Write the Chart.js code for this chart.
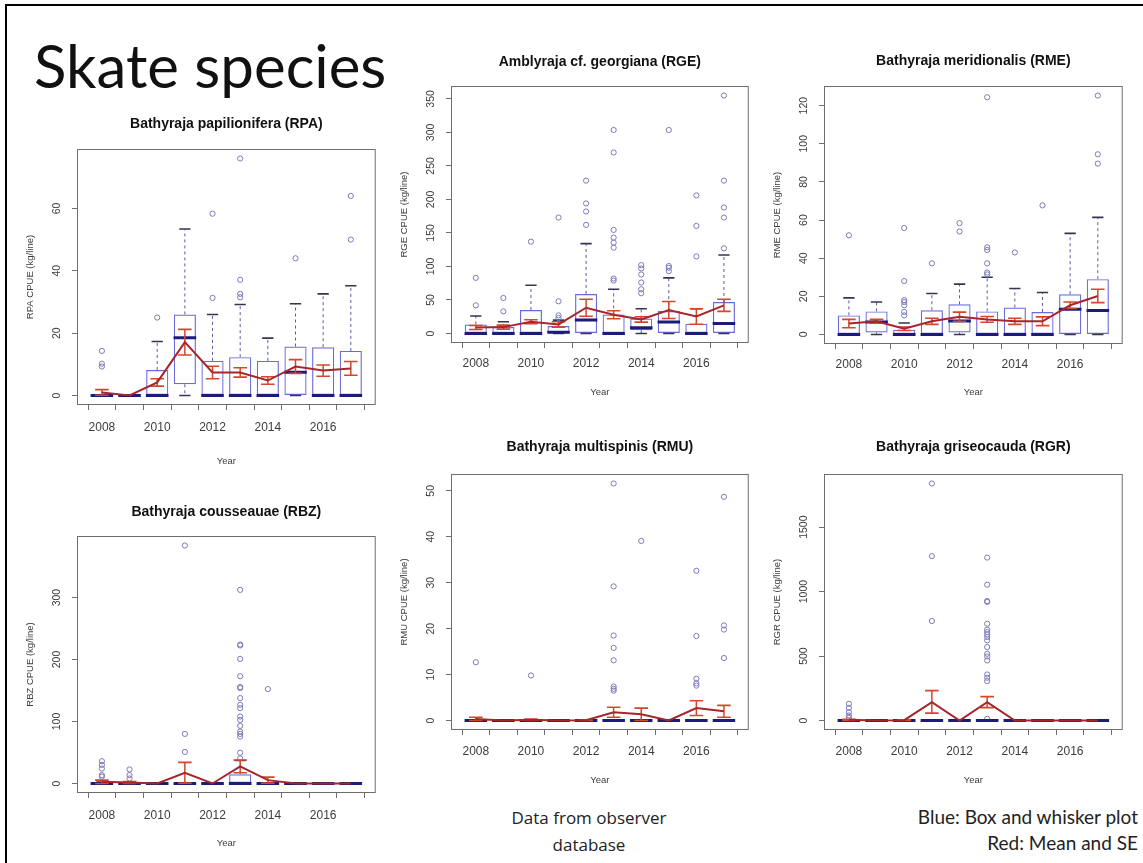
<!DOCTYPE html>
<html lang="en">
<head>
<meta charset="UTF-8">
<title>Skate species</title>
<script src="https://cdn.jsdelivr.net/npm/chart.js"></script>
<style>
  html, body { margin: 0; padding: 0; background: #fff; }
  #slide { position: relative; width: 1143px; height: 863px; overflow: hidden; background: #fff; }
  .rule { position: absolute; background: #000; }
  #heading { position: absolute; left: 34px; top: 35px; margin: 0; font: 400 60px/1 Lato, sans-serif; color: #111; white-space: nowrap; }
  .note { position: absolute; margin: 0; color: #222; white-space: nowrap; }
  #source { left: 489px; width: 200px; top: 804px; text-align: center; font: 400 17px/27px 'Open Sans', sans-serif; }
  #key { right: 5px; top: 804px; text-align: right; font: 400 19px/26px Lato, sans-serif; }
  canvas { position: absolute; }
</style>
</head>
<body>
<div id="slide">
  <div class="rule" style="left:5px;top:4px;width:1138px;height:1.5px"></div>
  <div class="rule" style="left:5px;top:4px;width:1.5px;height:859px"></div>
  <h1 id="heading">Skate species</h1>
  <p class="note" id="source">Data from observer<br>database</p>
  <p class="note" id="key">Blue: Box and whisker plot<br>Red: Mean and SE</p>
</div>

<script>
// survey years and the ones that get a label on the x axis
const years = [2008, 2009, 2010, 2011, 2012, 2013, 2014, 2015, 2016, 2017];
const labelledYears = [2008, 2010, 2012, 2014, 2016];

// box stats per year: [lower whisker, Q1, median, Q3, upper whisker]
const rpaStats = [
  [0, 0, 0, 0, 0], [0, 0, 0, 0, 0], [0, 0, 0, 8.2, 17.3], [0, 3.6, 18.5, 26, 53.4], [0, 0, 0, 11.1, 26],
  [0, 0, 0, 12.3, 29.2], [0, 0, 0, 11.1, 18.4], [0, 0, 7.5, 15.7, 29.4], [0, 0, 0, 15.5, 32.6], [0, 0, 0, 14.3, 35.2]
];
const rpaOutliers = [[9.3, 10.2, 14.3], [], [25], [], [31.3, 58.3], [31.5, 32.6, 37.1, 76], [], [44], [], [50, 64]];
const rpaMean = [1.0, 0, 4.2, 17.1, 7.4, 7.4, 4.8, 9.3, 8.0, 8.7];
const rpaSeLow = [0.1, 0, 3.0, 13.0, 5.4, 5.9, 3.6, 7.1, 6.2, 6.5];
const rpaSeHigh = [1.9, 0, 5.4, 21.2, 9.4, 8.9, 6.0, 11.5, 9.8, 10.9];

const rgeStats = [
  [0, 0, 0, 13.5, 26], [0, 0, 0, 9.5, 17.5], [0, 0, 0, 35, 72], [0, 0, 2, 11, 20], [0, 0, 20, 59, 134],
  [0, 0, 0, 28.4, 66], [0, 5, 8.5, 22.4, 37], [0, 0, 17, 33.4, 83], [0, 0, 0, 14.5, 37], [0, 0, 15, 47, 117]
];
const rgeOutliers = [
  [42, 83], [33, 53], [137], [23, 27, 48, 173], [162, 182, 194, 228],
  [79, 82, 128, 135.6, 143, 154.5, 270, 303.6], [60, 66, 76, 88, 97, 102], [93, 98, 100.7, 303.6],
  [115, 160.5, 206], [127, 173, 188, 228, 355]
];
const rgeMean = [9, 9.5, 17.5, 13.5, 38.4, 28, 21, 35, 25.4, 42];
const rgeSeLow = [6, 6.5, 14.5, 9.5, 25.8, 22, 17, 22.4, 13.8, 33];
const rgeSeHigh = [12, 12.5, 20.5, 17.5, 51, 34, 25, 47.6, 37, 51];

const rmeStats = [
  [0, 0, 0, 10, 19.2], [0, 1, 6.5, 12.1, 17], [0, 0, 0, 2.5, 6], [0, 0, 0, 12.7, 21.5], [0, 1, 7, 15.8, 26.4],
  [0, 0, 0, 12.1, 30], [0, 0, 0, 14.1, 24.1], [0, 0, 0, 11.8, 22], [0, 0, 13.2, 21.1, 53], [0, 0, 12.5, 29, 61.4]
];
const rmeOutliers = [
  [52], [], [10, 11.8, 15.3, 17, 18, 28, 55.8], [37.3], [54, 58.4],
  [31.5, 32.5, 37.3, 44.3, 45.7, 124.4], [43], [67.7], [], [89.6, 94.5, 125.3]
];
const rmeMean = [5.7, 6.9, 3.0, 6.9, 9.3, 7.9, 6.9, 6.9, 15.3, 20.2];
const rmeSeLow = [3.5, 5.9, 2.1, 5.3, 6.9, 6.4, 5.3, 4.6, 13.6, 16.7];
const rmeSeHigh = [7.9, 7.9, 3.9, 8.5, 11.7, 9.4, 8.5, 9.2, 17.0, 23.7];

const rbzStats = [
  [0, 0, 0, 2, 4], [0, 0, 0, 1, 2], [0, 0, 0, 0, 0], [0, 0, 0, 0, 0], [0, 0, 0, 0, 0],
  [0, 0, 0, 15, 37], [0, 0, 0, 0, 0], [0, 0, 0, 0, 0], [0, 0, 0, 0, 0], [0, 0, 0, 0, 0]
];
const rbzOutliers = [
  [11, 13.5, 24, 30, 36], [8, 13.5, 22.7], [], [51, 80, 384], [],
  [40.5, 49.7, 75.7, 80, 83.8, 93, 102.7, 108, 121.6, 127, 137.8, 154, 155.7, 173, 201, 222.7, 224.3, 312.4],
  [152.4], [], [], []
];
const rbzMean = [2.7, 1.6, 0, 17.3, 0, 27.5, 5.4, 0, 0, 0];
const rbzSeLow = [0, 0, 0, 0.6, 0, 17.3, 0.5, 0, 0, 0];
const rbzSeHigh = [5.4, 3.2, 0, 34, 0, 37.8, 10.3, 0, 0, 0];

const rmuStats = [
  [0, 0, 0, 0, 0], [0, 0, 0, 0, 0], [0, 0, 0, 0, 0], [0, 0, 0, 0, 0], [0, 0, 0, 0, 0],
  [0, 0, 0, 0, 0], [0, 0, 0, 0, 0], [0, 0, 0, 0, 0], [0, 0, 0, 0, 0], [0, 0, 0, 0, 0]
];
const rmuOutliers = [
  [12.7], [], [9.8], [], [], [6.5, 6.9, 7.4, 13.1, 15.8, 18.5, 29.2, 51.6], [39.1], [],
  [7.6, 8.1, 9.1, 18.4, 32.6], [13.6, 19.8, 20.7, 48.7]
];
const rmuMean = [0.35, 0, 0.15, 0, 0.05, 1.8, 1.35, 0, 2.7, 2.0];
const rmuSeLow = [0, 0, 0, 0, 0, 0.7, 0, 0, 1.1, 0.7];
const rmuSeHigh = [0.7, 0, 0.3, 0, 0.1, 2.9, 2.7, 0, 4.3, 3.3];

const rgrStats = [
  [0, 0, 0, 0, 0], [0, 0, 0, 0, 0], [0, 0, 0, 0, 0], [0, 0, 0, 0, 0], [0, 0, 0, 0, 0],
  [0, 0, 0, 0, 0], [0, 0, 0, 0, 0], [0, 0, 0, 0, 0], [0, 0, 0, 0, 0], [0, 0, 0, 0, 0]
];
const rgrOutliers = [
  [21, 39, 65, 98, 130], [], [], [772, 1275, 1839], [],
  [13, 306, 332, 357, 466, 497, 518, 570, 622, 648, 668, 686, 705, 751, 920, 927, 1054, 1264],
  [], [], [], []
];
const rgrMean = [5, 0, 3, 143, 0, 142, 0, 0, 0, 0];
const rgrSeLow = [0, 0, 0, 57, 0, 100, 0, 0, 0, 0];
const rgrSeHigh = [10, 0, 6, 232, 0, 185, 0, 0, 0, 0];

// where each plot box sits on the slide
const panels = [
  { title: 'Bathyraja papilionifera (RPA)', yTitle: 'RPA CPUE (kg/line)', step: 20,
    stats: rpaStats, outliers: rpaOutliers, mean: rpaMean, seLow: rpaSeLow, seHigh: rpaSeHigh,
    left: 77, top: 149, width: 305, height: 256, titleGap: 25, tickGap: 22, yearGap: 56 },
  { title: 'Amblyraja cf. georgiana (RGE)', yTitle: 'RGE CPUE (kg/line)', step: 50,
    stats: rgeStats, outliers: rgeOutliers, mean: rgeMean, seLow: rgeSeLow, seHigh: rgeSeHigh,
    left: 451, top: 86, width: 304, height: 257, titleGap: 24, tickGap: 20, yearGap: 49 },
  { title: 'Bathyraja meridionalis (RME)', yTitle: 'RME CPUE (kg/line)', step: 20,
    stats: rmeStats, outliers: rmeOutliers, mean: rmeMean, seLow: rmeSeLow, seHigh: rmeSeHigh,
    left: 824, top: 86, width: 305, height: 258, titleGap: 25, tickGap: 20, yearGap: 48 },
  { title: 'Bathyraja cousseauae (RBZ)', yTitle: 'RBZ CPUE (kg/line)', step: 100,
    stats: rbzStats, outliers: rbzOutliers, mean: rbzMean, seLow: rbzSeLow, seHigh: rbzSeHigh,
    left: 77, top: 536, width: 305, height: 257, titleGap: 24, tickGap: 22, yearGap: 50 },
  { title: 'Bathyraja multispinis (RMU)', yTitle: 'RMU CPUE (kg/line)', step: 10,
    stats: rmuStats, outliers: rmuOutliers, mean: rmuMean, seLow: rmuSeLow, seHigh: rmuSeHigh,
    left: 451, top: 474, width: 304, height: 256, titleGap: 27, tickGap: 21, yearGap: 50 },
  { title: 'Bathyraja griseocauda (RGR)', yTitle: 'RGR CPUE (kg/line)', step: 500,
    stats: rgrStats, outliers: rgrOutliers, mean: rgrMean, seLow: rgrSeLow, seHigh: rgrSeHigh,
    left: 824, top: 474, width: 305, height: 256, titleGap: 27, tickGap: 21, yearGap: 50 }
];

const BOX_BLUE = '#6a6adc';
const MEDIAN_NAVY = '#1b1b78';
const WHISKER_BLUE = '#5a5aa6';
const STAPLE_DARK = '#35354f';
const OUTLIER_BLUE = '#7a7abc';
const MEAN_RED = '#a6262c';
const SE_RED = '#d6462a';

const AXIS_W = 75, AXIS_H = 64, PAD_R = 8;
const TITLE_SIZE = 14, TITLE_PAD = 2;
const YTICK_SIZE = 10.5;

Chart.defaults.font.family = "'Liberation Sans', Arial, Helvetica, sans-serif";
Chart.defaults.animation = false;
Chart.defaults.responsive = false;
Chart.defaults.events = [];
Chart.defaults.plugins.legend.display = false;
Chart.defaults.plugins.tooltip.enabled = false;

// R-style closed box round the plot region
const plotFrame = {
  id: 'plotFrame',
  beforeDatasetsDraw(chart) {
    const { ctx, chartArea: a } = chart;
    ctx.save();
    ctx.strokeStyle = '#6e6e6e';
    ctx.lineWidth = 1;
    ctx.strokeRect(a.left + 0.5, a.top + 0.5, a.right - a.left - 1, a.bottom - a.top - 1);
    ctx.restore();
  }
};

const at = vals => vals.map((v, i) => ({ x: years[i], y: v }));
const spans = (from, to) => years.flatMap((yr, i) => [{ x: yr, y: from[i] }, { x: yr, y: to[i] }, { x: yr, y: null }]);

function drawPanel(p) {
  const xMin = years[0] - 0.5, xMax = years[years.length - 1] + 0.5;
  const xPad = (xMax - xMin) * 0.04;
  const high = Math.max(...p.stats.map(s => s[4]), ...p.outliers.flat());
  const yPad = high * 0.04;
  const perYear = p.width / (xMax - xMin + 2 * xPad);
  const topTick = Math.floor(high / p.step) * p.step;

  const lh = TITLE_SIZE * 1.2;
  const head = Math.round(p.titleGap + TITLE_PAD + lh / 2);
  const w = AXIS_W + p.width + PAD_R;
  const h = head + p.height + AXIS_H;

  const canvas = document.createElement('canvas');
  canvas.width = w;
  canvas.height = h;
  canvas.style.left = (p.left - AXIS_W) + 'px';
  canvas.style.top = (p.top - head) + 'px';
  canvas.style.width = w + 'px';
  canvas.style.height = h + 'px';
  document.getElementById('slide').appendChild(canvas);

  const q = k => p.stats.map(s => s[k]);
  const seCaps = years.flatMap((yr, i) => p.seHigh[i] > p.seLow[i]
    ? [{ x: yr, y: p.seLow[i] }, { x: yr, y: p.seHigh[i] }] : []);
  const outlierPts = years.flatMap((yr, i) => p.outliers[i].map(v => ({ x: yr, y: v })));

  const marks = { showLine: false };

  new Chart(canvas, {
    type: 'line',
    data: {
      datasets: [
        { type: 'bar', order: 10, data: years.map((yr, i) => ({ x: yr, y: [p.stats[i][1], p.stats[i][3]] })),
          backgroundColor: 'rgba(255,255,255,0)', borderColor: BOX_BLUE, borderWidth: 1.2,
          borderSkipped: false, barPercentage: 0.8, categoryPercentage: 1, grouped: false },
        { order: 9, data: spans(q(3), q(4)).concat(spans(q(1), q(0))), borderColor: WHISKER_BLUE,
          borderWidth: 1, borderDash: [3, 3], pointRadius: 0, spanGaps: false },
        { order: 8, ...marks, data: at(q(4)).concat(at(q(0))), pointStyle: 'line',
          pointRadius: perYear * 0.2, pointBorderWidth: 1.6, pointBorderColor: STAPLE_DARK },
        { order: 7, ...marks, data: outlierPts, pointStyle: 'circle', pointRadius: 2.6,
          pointBorderWidth: 1, pointBorderColor: OUTLIER_BLUE, pointBackgroundColor: 'rgba(0,0,0,0)' },
        { order: 6, ...marks, data: at(q(2)), pointStyle: 'line', pointRadius: perYear * 0.4,
          pointBorderWidth: 3, pointBorderColor: MEDIAN_NAVY },
        { order: 5, data: spans(p.seLow, p.seHigh), borderColor: SE_RED, borderWidth: 1.5,
          pointRadius: 0, spanGaps: false },
        { order: 4, ...marks, data: seCaps, pointStyle: 'line', pointRadius: perYear * 0.24,
          pointBorderWidth: 1.6, pointBorderColor: SE_RED },
        { order: 3, data: at(p.mean), borderColor: MEAN_RED, borderWidth: 2, pointRadius: 0 }
      ]
    },
    options: {
      devicePixelRatio: 1,
      layout: { padding: { left: 0, right: PAD_R, top: 0, bottom: 0 } },
      plugins: {
        title: {
          display: true, text: p.title, fullSize: false, color: '#111',
          font: { size: TITLE_SIZE, weight: 'bold', lineHeight: 1.2 },
          padding: { top: TITLE_PAD, bottom: head - TITLE_PAD - lh }
        }
      },
      scales: {
        x: {
          type: 'linear', min: xMin - xPad, max: xMax + xPad, offset: false,
          afterFit: s => { s.height = AXIS_H; },
          ticks: {
            stepSize: 1, includeBounds: false, autoSkip: false, maxRotation: 0, minRotation: 0,
            padding: p.tickGap - 11.5, color: '#3c3c3c', font: { size: 12 },
            callback: v => labelledYears.includes(v) ? String(v) : ''
          },
          grid: { drawOnChartArea: false, drawTicks: true, tickLength: 5, color: '#6e6e6e' },
          border: { display: false },
          title: { display: true, text: 'Year', color: '#3c3c3c', font: { size: 9.5, lineHeight: 1.2 },
                   padding: { top: 0, bottom: AXIS_H - p.yearGap - 5.7 } }
        },
        y: {
          type: 'linear', min: -yPad, max: high + yPad,
          afterFit: s => { s.width = AXIS_W; },
          // ticks at whole multiples of the step, from zero up
          afterBuildTicks: s => {
            const ticks = [];
            for (let v = 0; v <= topTick; v += p.step) ticks.push({ value: v });
            s.ticks = ticks;
          },
          ticks: {
            stepSize: p.step, minRotation: 90, maxRotation: 90, crossAlign: 'center',
            padding: 15 - String(topTick).length * 0.556 * YTICK_SIZE / 2,
            color: '#3c3c3c', font: { size: YTICK_SIZE },
            callback: v => String(v)
          },
          grid: { drawOnChartArea: false, drawTicks: true, tickLength: 5, color: '#6e6e6e' },
          border: { display: false },
          title: { display: true, text: p.yTitle, color: '#3c3c3c', font: { size: 9.5, lineHeight: 1.2 },
                   padding: { top: 28 - 5.7, bottom: 0 } }
        }
      }
    },
    plugins: [plotFrame]
  });
}

panels.forEach(drawPanel);
</script>
</body>
</html>
